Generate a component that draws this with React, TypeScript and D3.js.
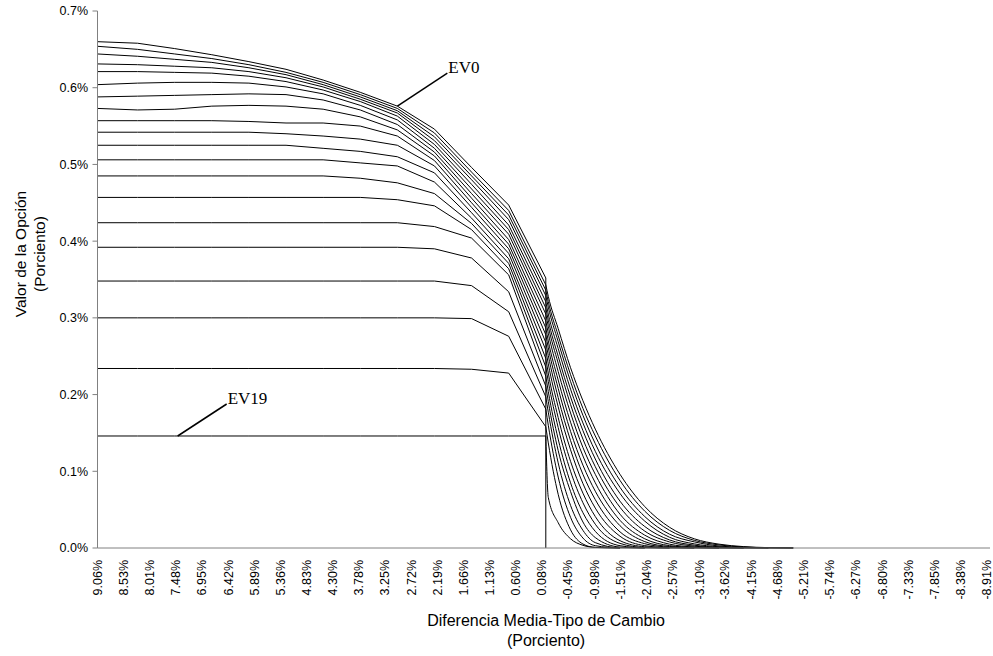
import React from 'react';
import * as d3 from 'd3';

// x grid (Diferencia Media-Tipo de Cambio, %) of the points
const LEFT_X = [9.06, 8.25, 7.5, 6.75, 6.0, 5.25, 4.5, 3.75, 3.0, 2.25, 1.5, 0.75, 0];
const RIGHT_X = [-0.05, -0.25, -0.5, -0.75, -1.0, -1.5, -2.0, -2.5, -3.0, -3.5, -4.0, -4.5, -5.0];

const SERIES = ['EV0', 'EV1', 'EV2', 'EV3', 'EV4', 'EV5', 'EV6', 'EV7', 'EV8', 'EV9',
  'EV10', 'EV11', 'EV12', 'EV13', 'EV14', 'EV15', 'EV16', 'EV17', 'EV18', 'EV19'];

// option value (%) on LEFT_X, one row per series
const LEFT_VALUES = [
  [0.660, 0.658, 0.651, 0.643, 0.634, 0.624, 0.610, 0.594, 0.576, 0.546, 0.496, 0.447, 0.352],
  [0.654, 0.650, 0.644, 0.638, 0.630, 0.620, 0.607, 0.591, 0.573, 0.541, 0.490, 0.440, 0.343],
  [0.644, 0.641, 0.637, 0.633, 0.626, 0.617, 0.604, 0.588, 0.570, 0.536, 0.485, 0.434, 0.336],
  [0.631, 0.630, 0.628, 0.626, 0.621, 0.613, 0.601, 0.585, 0.567, 0.531, 0.480, 0.428, 0.329],
  [0.621, 0.621, 0.620, 0.619, 0.615, 0.608, 0.597, 0.582, 0.563, 0.526, 0.474, 0.421, 0.321],
  [0.604, 0.606, 0.607, 0.607, 0.606, 0.601, 0.592, 0.577, 0.558, 0.521, 0.468, 0.415, 0.313],
  [0.588, 0.589, 0.590, 0.591, 0.592, 0.591, 0.584, 0.571, 0.552, 0.516, 0.462, 0.409, 0.305],
  [0.573, 0.571, 0.572, 0.576, 0.577, 0.576, 0.572, 0.562, 0.545, 0.511, 0.456, 0.402, 0.296],
  [0.557, 0.557, 0.557, 0.557, 0.556, 0.554, 0.554, 0.550, 0.537, 0.505, 0.450, 0.396, 0.287],
  [0.542, 0.542, 0.542, 0.542, 0.542, 0.540, 0.537, 0.533, 0.525, 0.498, 0.444, 0.390, 0.278],
  [0.525, 0.525, 0.525, 0.525, 0.525, 0.525, 0.521, 0.517, 0.510, 0.489, 0.437, 0.384, 0.268],
  [0.506, 0.506, 0.506, 0.506, 0.506, 0.506, 0.506, 0.502, 0.498, 0.477, 0.430, 0.377, 0.258],
  [0.485, 0.485, 0.485, 0.485, 0.485, 0.485, 0.485, 0.482, 0.476, 0.462, 0.423, 0.371, 0.247],
  [0.457, 0.457, 0.457, 0.457, 0.457, 0.457, 0.457, 0.457, 0.454, 0.446, 0.415, 0.364, 0.236],
  [0.424, 0.424, 0.424, 0.424, 0.424, 0.424, 0.424, 0.424, 0.424, 0.419, 0.404, 0.356, 0.224],
  [0.392, 0.392, 0.392, 0.392, 0.392, 0.392, 0.392, 0.392, 0.392, 0.390, 0.378, 0.334, 0.211],
  [0.348, 0.348, 0.348, 0.348, 0.348, 0.348, 0.348, 0.348, 0.348, 0.348, 0.342, 0.308, 0.197],
  [0.300, 0.300, 0.300, 0.300, 0.300, 0.300, 0.300, 0.300, 0.300, 0.300, 0.299, 0.276, 0.181],
  [0.234, 0.234, 0.234, 0.234, 0.234, 0.234, 0.234, 0.234, 0.234, 0.234, 0.233, 0.228, 0.158],
  [0.146, 0.146, 0.146, 0.146, 0.146, 0.146, 0.146, 0.146, 0.146, 0.146, 0.146, 0.146, 0.146],
];

// option value (%) on RIGHT_X; EV0 stops at zero
const RIGHT_VALUES = [
  [],
  [0.328, 0.286, 0.235, 0.192, 0.155, 0.096, 0.054, 0.027, 0.012, 0.005, 0.0018, 0.0005, 0.0001],
  [0.321, 0.277, 0.226, 0.182, 0.146, 0.088, 0.048, 0.023, 0.010, 0.004, 0.0013, 0.0003, 0.0001],
  [0.314, 0.269, 0.217, 0.173, 0.136, 0.079, 0.041, 0.018, 0.008, 0.0026, 0.0008, 0.0002, 0],
  [0.305, 0.260, 0.207, 0.163, 0.126, 0.071, 0.035, 0.014, 0.0054, 0.0016, 0.0004, 0.0001, 0],
  [0.297, 0.250, 0.197, 0.153, 0.116, 0.061, 0.028, 0.0105, 0.0037, 0.0009, 0.0002, 0, 0],
  [0.289, 0.241, 0.187, 0.142, 0.106, 0.053, 0.022, 0.0079, 0.0024, 0.0005, 0.0001, 0, 0],
  [0.280, 0.230, 0.176, 0.131, 0.096, 0.044, 0.0167, 0.005, 0.0013, 0.0002, 0, 0, 0],
  [0.270, 0.219, 0.164, 0.120, 0.085, 0.036, 0.012, 0.0031, 0.0007, 0.0001, 0, 0, 0],
  [0.261, 0.208, 0.152, 0.108, 0.074, 0.029, 0.0083, 0.0019, 0.0003, 0, 0, 0, 0],
  [0.251, 0.196, 0.140, 0.096, 0.063, 0.021, 0.0056, 0.0011, 0.0001, 0, 0, 0, 0],
  [0.240, 0.184, 0.128, 0.084, 0.052, 0.0153, 0.0031, 0.0004, 0, 0, 0, 0, 0],
  [0.228, 0.170, 0.113, 0.0715, 0.041, 0.0095, 0.0016, 0.0001, 0, 0, 0, 0, 0],
  [0.217, 0.157, 0.100, 0.059, 0.031, 0.006, 0.0006, 0, 0, 0, 0, 0, 0],
  [0.204, 0.142, 0.085, 0.046, 0.0217, 0.003, 0.0002, 0, 0, 0, 0, 0, 0],
  [0.191, 0.127, 0.0736, 0.0339, 0.0136, 0.0012, 0, 0, 0, 0, 0, 0, 0],
  [0.177, 0.111, 0.0555, 0.023, 0.007, 0.0003, 0, 0, 0, 0, 0, 0, 0],
  [0.160, 0.0925, 0.040, 0.013, 0.003, 0, 0, 0, 0, 0, 0, 0, 0],
  [0.137, 0.070, 0.0237, 0.0052, 0.0007, 0, 0, 0, 0, 0, 0, 0, 0],
  [0.066, 0.033, 0.012, 0.0035, 0.0008, 0, 0, 0, 0, 0, 0, 0, 0],
];

// EV0 falls straight to zero at x = 0
const EV0_DROP = [0.352, 0];

const X_LABELS = [9.06, 8.53, 8.01, 7.48, 6.95, 6.42, 5.89, 5.36, 4.83, 4.30, 3.78, 3.25, 2.72,
  2.19, 1.66, 1.13, 0.60, 0.08, -0.45, -0.98, -1.51, -2.04, -2.57, -3.10, -3.62, -4.15, -4.68,
  -5.21, -5.74, -6.27, -6.80, -7.33, -7.85, -8.38, -8.91];
const Y_TICKS = [0, 0.1, 0.2, 0.3, 0.4, 0.5, 0.6, 0.7];

// where the two callouts touch their curves
const EV0_NOTE_X = 3.0;
const EV19_NOTE_X = 7.44;

const SANS = '"Liberation Sans", Arial, sans-serif';
const SERIF = '"Liberation Serif", "Times New Roman", serif';

const App = () => {
  const width = 993;
  const height = 656;

  const x = d3.scaleLinear().domain([9.06, -8.91]).range([97.5, 986.7]);
  const y = d3.scaleLinear().domain([0, 0.7]).range([548, 11]);

  const straight = d3.line<[number, number]>()
    .x(d => x(d[0]))
    .y(d => y(d[1]));
  const smooth = d3.line<[number, number]>()
    .x(d => x(d[0]))
    .y(d => y(d[1]))
    .curve(d3.curveMonotoneX);

  const paths = SERIES.map((name, i) => {
    const left: [number, number][] = LEFT_X.map((xv, j) => [xv, LEFT_VALUES[i][j]]);
    if (i === 0) {
      left.push([0, EV0_DROP[1]]);
      return { name, left: straight(left), right: null };
    }
    // right side: start at x = 0, stop at the first zero
    const right: [number, number][] = [[0, LEFT_VALUES[i][LEFT_VALUES[i].length - 1]]];
    for (let j = 0; j < RIGHT_X.length; j++) {
      right.push([RIGHT_X[j], RIGHT_VALUES[i][j]]);
      if (RIGHT_VALUES[i][j] === 0) break;
    }
    return { name, left: straight(left), right: smooth(right) };
  });

  const ev0x = x(EV0_NOTE_X);
  const ev0y = y(LEFT_VALUES[0][LEFT_X.indexOf(EV0_NOTE_X)]);
  const ev19x = x(EV19_NOTE_X);
  const ev19y = y(LEFT_VALUES[19][0]);

  const axisColor = '#808080';

  return (
    <svg width={width} height={height} style={{ position: 'absolute', left: 0, top: 0, background: '#fff' }}>
      {/* curves */}
      <g fill="none" stroke="#000" strokeWidth={1}>
        {paths.map(p => (
          <g key={p.name}>
            <path d={p.left ?? ''} />
            {p.right && <path d={p.right} />}
          </g>
        ))}
      </g>

      {/* y axis */}
      <line x1={x(9.06)} x2={x(9.06)} y1={y(0.7)} y2={y(0)} stroke={axisColor} />
      {Y_TICKS.map(t => (
        <g key={t}>
          <line x1={x(9.06) - 5} x2={x(9.06)} y1={y(t)} y2={y(t)} stroke={axisColor} />
          <text x={88} y={y(t)} dy="0.35em" textAnchor="end" fontFamily={SANS} fontSize={12.5} fill="#000">
            {t.toFixed(1) + '%'}
          </text>
        </g>
      ))}

      {/* x axis */}
      <line x1={x(9.06)} x2={990} y1={y(0)} y2={y(0)} stroke={axisColor} />
      {X_LABELS.map(t => (
        <text key={t} transform={`translate(${x(t)},560) rotate(-90)`} dy="0.35em" textAnchor="end"
          fontFamily={SANS} fontSize={12.5} fill="#000">
          {t.toFixed(2) + '%'}
        </text>
      ))}

      {/* axis titles */}
      <text x={546} y={626} textAnchor="middle" fontFamily={SANS} fontSize={16} fill="#000">
        Diferencia Media-Tipo de Cambio
      </text>
      <text x={546} y={646} textAnchor="middle" fontFamily={SANS} fontSize={16} fill="#000">
        (Porciento)
      </text>
      <text transform="translate(26,254) rotate(-90)" textAnchor="middle" fontFamily={SANS} fontSize={15.5} fill="#000">
        Valor de la Opción
      </text>
      <text transform="translate(45,254) rotate(-90)" textAnchor="middle" fontFamily={SANS} fontSize={15.5} fill="#000">
        (Porciento)
      </text>

      {/* callouts */}
      <line x1={ev0x} y1={ev0y} x2={ev0x + 50} y2={ev0y - 33} stroke="#000" strokeWidth={1.5} />
      <text x={ev0x + 51} y={ev0y - 33} fontFamily={SERIF} fontSize={17} fill="#000">EV0</text>
      <line x1={ev19x} y1={ev19y} x2={ev19x + 49} y2={ev19y - 32} stroke="#000" strokeWidth={1.5} />
      <text x={ev19x + 50} y={ev19y - 32} fontFamily={SERIF} fontSize={17} fill="#000">EV19</text>
    </svg>
  );
};

export default App;
